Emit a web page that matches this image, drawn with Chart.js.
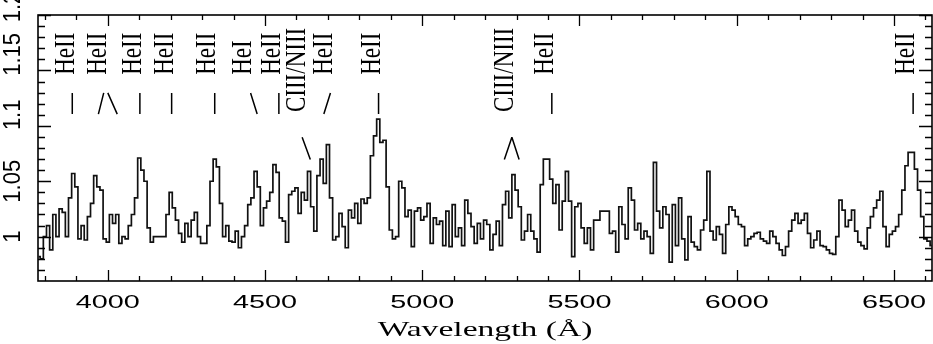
<!DOCTYPE html>
<html>
<head>
<meta charset="utf-8">
<script src="https://cdn.jsdelivr.net/npm/chart.js@4.4.0/dist/chart.umd.min.js"></script>
<style>
  html, body { margin: 0; padding: 0; background: #fff; }
</style>
</head>
<body>
<canvas id="myChart" width="933" height="344"></canvas>
<script>
// spectrum sampled every 10 A starting at 3780 A
var waveStart = 3780;
var waveStep = 10;
var flux = [
  0.982, 0.980, 1.000, 1.010, 0.988, 1.020, 1.000, 1.025, 1.022, 1.000,
  1.035, 1.057, 1.045, 0.998, 1.010, 0.997, 1.018, 1.030, 1.055, 1.045,
  1.042, 0.998, 0.995, 1.020, 1.012, 1.020, 0.994, 1.000, 0.998, 1.010,
  1.020, 1.035, 1.071, 1.060, 1.050, 1.008, 0.995, 1.000, 1.000, 1.000,
  1.000, 1.020, 1.040, 1.026, 1.015, 1.003, 0.995, 1.012, 1.000, 1.015,
  1.022, 1.000, 0.994, 0.994, 1.010, 1.050, 1.070, 1.063, 1.030,
  // 4370
  1.000, 1.010, 0.996, 0.995, 1.005, 0.990, 1.000, 1.010, 1.029, 1.035,
  1.059, 1.045, 1.010, 1.026, 1.032, 1.040, 1.065, 1.058, 1.017, 1.014,
  0.995, 1.038, 1.041, 1.044, 1.021, 1.040, 1.033, 1.059, 1.027, 1.005,
  1.055, 1.070, 1.048, 1.083, 1.035, 0.997, 1.000, 1.021, 1.009, 0.990,
  1.024, 1.017, 1.030, 1.012, 1.034, 1.030, 1.035, 1.073, 1.091, 1.106,
  1.085, 1.087, 1.045, 1.006, 0.998, 1.000, 1.050,
  // 4940
  1.044, 1.018, 1.024, 0.991, 1.023, 1.026, 1.015, 1.018, 1.030, 0.994,
  1.017, 1.011, 1.014, 0.992, 1.023, 0.991, 1.029, 1.000, 1.008, 0.992,
  1.033, 1.021, 1.009, 0.994, 1.012, 0.998, 1.015, 1.011, 0.988, 1.002,
  1.014, 0.992, 1.029, 1.041, 1.017, 1.056, 1.042, 1.027, 0.997, 1.005,
  1.020, 1.005, 0.998, 0.986, 1.047, 1.070, 1.070, 1.052, 1.030, 1.047,
  1.006, 1.032, 1.059, 1.032, 0.982, 1.027, 1.030,
  // 5510
  1.008, 0.994, 1.008, 0.988, 1.015, 1.015, 1.023, 1.023, 1.023, 1.003,
  1.005, 0.986, 1.027, 1.011, 0.998, 1.044, 1.033, 1.006, 1.012, 0.998,
  1.005, 1.000, 0.985, 1.067, 1.023, 1.008, 1.027, 1.020, 0.977, 1.029,
  0.992, 1.035, 0.998, 0.979, 1.018, 0.995, 0.991, 0.988, 1.006, 1.015,
  1.059, 1.005, 0.997, 1.009, 1.002, 0.985, 1.011, 1.027, 1.024, 1.018,
  1.011, 1.009, 0.992, 0.998, 1.000, 1.003,
  // 6070
  1.004, 0.998, 0.996, 0.994, 1.005, 1.000, 0.994, 0.988, 0.983, 0.991,
  1.005, 1.015, 1.021, 1.012, 1.015, 1.021, 1.003, 0.990, 0.997, 1.005,
  0.992, 0.991, 0.988, 0.985, 0.984, 1.000, 1.033, 1.024, 1.009, 1.015,
  1.024, 1.005, 0.995, 0.992, 0.989, 1.008, 1.018, 1.026, 1.033, 1.041,
  1.009, 0.991, 1.002, 1.005, 1.009, 1.020, 1.042, 1.064, 1.076, 1.076,
  1.061, 1.042, 1.018, 0.998, 0.996, 0.992
];

var xTickLabels = ['4000', '4500', '5000', '5500', '6000', '6500'];
var yTickLabels = ['1', '1.05', '1.1', '1.15', '1.2'];

// line identifications: label text and wavelength of the text baseline
var lineNames = ['HeII', 'HeII', 'HeII', 'HeII', 'HeII', 'HeI', 'HeII', 'CIII/NIII', 'HeII', 'HeII', 'CIII/NIII', 'HeII', 'HeII'];
var lineLabelWave = [3891, 3993, 4104, 4206, 4342, 4454, 4549, 4628, 4714, 4867, 5289, 5416, 6564];
// pointer strokes [wave at top, wave at bottom]
var pointersHigh = [[3887, 3887], [3987, 3970], [4000, 4030], [4102, 4102], [4203, 4203], [4340, 4340],
                    [4454, 4475], [4544, 4544], [4708, 4687], [4861, 4861], [5412, 5412], [6561, 6561]];
var pointersLow = [[4618, 4644], [5285, 5261], [5285, 5308]];

var points = flux.map(function (f, i) {
    return { x: waveStart + i * waveStep, y: f };
});

// the y labels in the original sit a little above their ticks
var yLabelShift = [0, 0, -11, -16, -8];

var frame = {
    id: 'frame',
    afterDatasetsDraw: function (chart) {
        var ctx = chart.ctx;
        var a = chart.chartArea;
        var xs = chart.scales.x, ys = chart.scales.y;
        ctx.save();
        ctx.strokeStyle = '#000';
        ctx.fillStyle = '#000';
        ctx.lineWidth = 1.6;
        ctx.strokeRect(a.left, a.top, a.right - a.left, a.bottom - a.top);

        // ticks, inside, all four sides
        ctx.lineWidth = 1.3;
        ctx.beginPath();
        for (var w = 3800; w <= 6600; w += 100) {
            var px = Math.round(xs.getPixelForValue(w)) + 0.5;
            var len = (w % 500 === 0) ? 11 : 5;
            ctx.moveTo(px, a.bottom); ctx.lineTo(px, a.bottom - len);
            ctx.moveTo(px, a.top); ctx.lineTo(px, a.top + len);
        }
        for (var k = 97; k <= 120; k++) {
            var py = Math.round(ys.getPixelForValue(k / 100)) + 0.5;
            var lenY = (k % 5 === 0) ? 13 : 7;
            ctx.moveTo(a.left, py); ctx.lineTo(a.left + lenY, py);
            ctx.moveTo(a.right, py); ctx.lineTo(a.right - lenY, py);
        }
        ctx.stroke();

        // x tick labels
        ctx.font = '18px "Liberation Sans"';
        ctx.textAlign = 'center';
        ctx.textBaseline = 'alphabetic';
        xTickLabels.forEach(function (t) {
            ctx.save();
            ctx.translate(xs.getPixelForValue(parseFloat(t)), a.bottom + 27);
            ctx.scale(1.6, 1);
            ctx.fillText(t, 0, 0);
            ctx.restore();
        });

        // y tick labels, rotated
        ctx.font = '22px "Liberation Sans"';
        yTickLabels.forEach(function (t, i) {
            ctx.save();
            ctx.translate(20, ys.getPixelForValue(parseFloat(t)) + yLabelShift[i]);
            ctx.rotate(-Math.PI / 2);
            ctx.scale(1, 1.1);
            ctx.fillText(t, 0, 0);
            ctx.restore();
        });

        // axis title
        ctx.font = '21px "Liberation Serif"';
        ctx.save();
        ctx.translate((a.left + a.right) / 2, a.bottom + 55);
        ctx.scale(1.6, 1);
        ctx.fillText('Wavelength (\u00c5)', 0, 0);
        ctx.restore();

        // line ids
        ctx.font = '23px "Liberation Serif"';
        lineNames.forEach(function (name, i) {
            var px = xs.getPixelForValue(lineLabelWave[i]);
            ctx.save();
            if (name.length > 5) {
                ctx.translate(px, ys.getPixelForValue(1.1885));
                ctx.textAlign = 'right';
            } else {
                ctx.translate(px, ys.getPixelForValue(1.146));
                ctx.textAlign = 'left';
            }
            ctx.rotate(-Math.PI / 2);
            ctx.scale(1, 1.3);
            ctx.fillText(name, 0, 0);
            ctx.restore();
        });

        // pointers
        ctx.lineWidth = 1.5;
        ctx.beginPath();
        pointersHigh.forEach(function (p) {
            ctx.moveTo(xs.getPixelForValue(p[0]), ys.getPixelForValue(1.1297));
            ctx.lineTo(xs.getPixelForValue(p[1]), ys.getPixelForValue(1.1106));
        });
        pointersLow.forEach(function (p) {
            ctx.moveTo(xs.getPixelForValue(p[0]), ys.getPixelForValue(1.0897));
            ctx.lineTo(xs.getPixelForValue(p[1]), ys.getPixelForValue(1.0697));
        });
        ctx.stroke();
        ctx.restore();
    }
};

var ctx = document.getElementById('myChart').getContext('2d');
var myChart = new Chart(ctx, {
    type: 'line',
    data: {
        datasets: [{
            label: 'Flux',
            data: points,
            borderColor: '#111',
            borderWidth: 1.7,
            pointRadius: 0,
            stepped: 'middle',
            fill: false
        }]
    },
    options: {
        responsive: false,
        animation: false,
        devicePixelRatio: 1,
        layout: { padding: { left: 38, right: 1, top: 15, bottom: 63 } },
        plugins: {
            legend: { display: false },
            tooltip: { enabled: false }
        },
        scales: {
            x: { type: 'linear', min: 3778, max: 6621, display: false },
            y: { min: 0.96, max: 1.2, display: false }
        }
    },
    plugins: [frame]
});
</script>
</body>
</html>
